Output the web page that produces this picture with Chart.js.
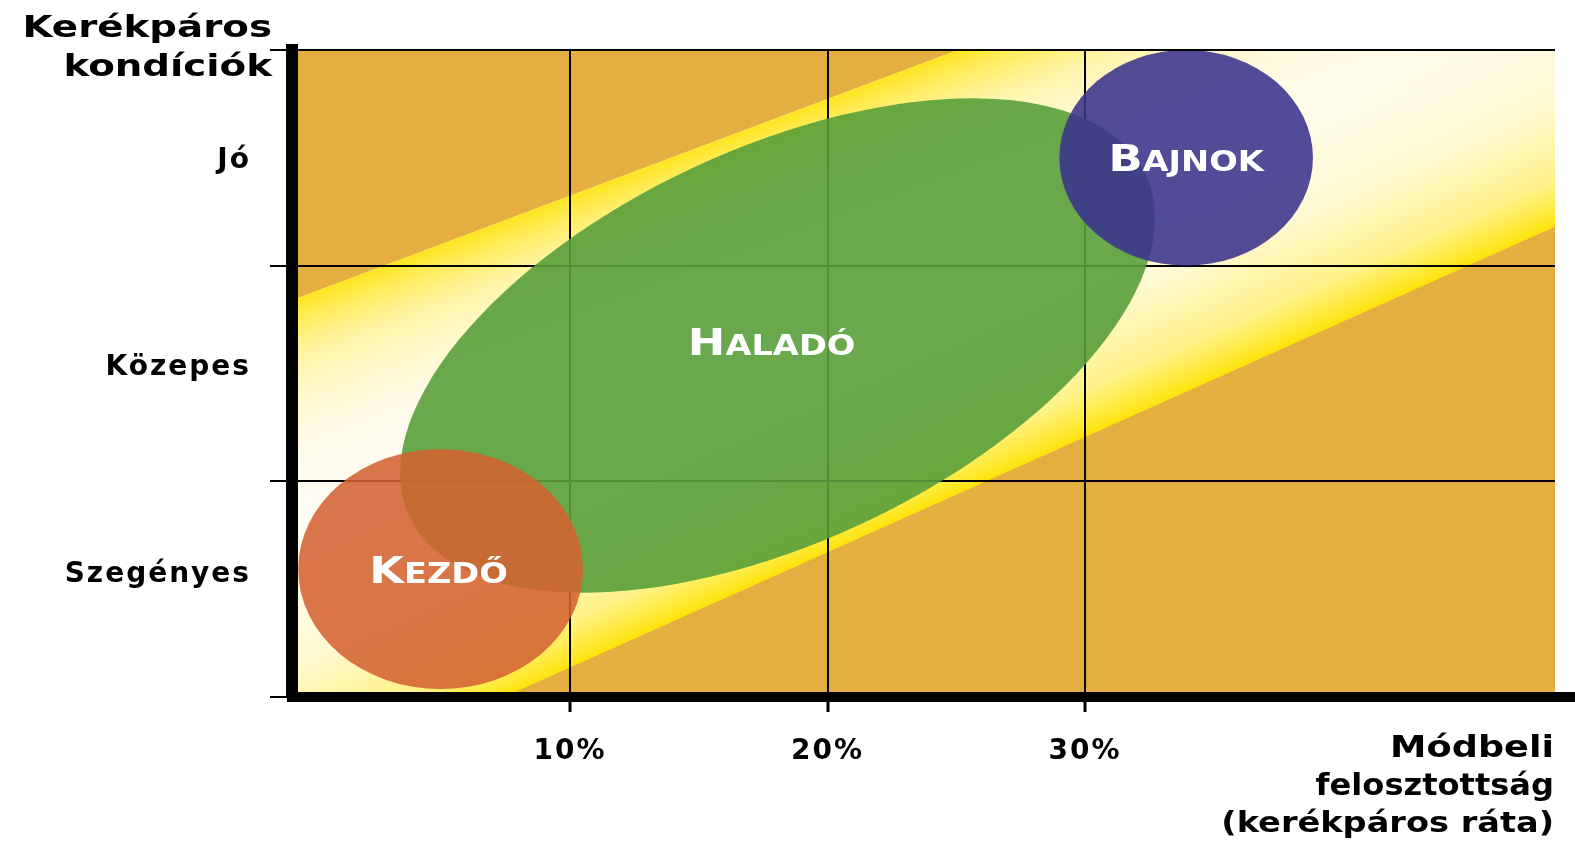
<!DOCTYPE html>
<html>
<head>
<meta charset="utf-8">
<script src="https://cdn.jsdelivr.net/npm/chart.js@4.4.1/dist/chart.umd.min.js"></script>
<style>
html, body { margin: 0; padding: 0; background: #ffffff; }
#wrap { width: 1575px; height: 842px; }
</style>
</head>
<body>
<div id="wrap"><canvas id="c" width="1575" height="842"></canvas></div>
<script>
// ---- data ----
const levelLabels = ['Szegényes', 'Közepes', 'Jó'];
const levelLabelPositions = [0.565, 1.525, 2.485];
const levelLines = [0, 1, 2, 3];
const shareTicks = [10, 20, 30];
const shareRange = [-0.8, 48.25];

const bandX = [-0.8, 48.25];
const bandLowerY = [-0.44, 2.18];
const bandUpperY = [1.84, 4.04];

const groupNames = ['Haladó', 'Kezdő', 'Bajnok'];
const groupAxisStartX = [3.76, -0.56, 29.0];
const groupAxisStartY = [0.837, 0.593, 2.5];
const groupAxisEndX = [32.36, 10.5, 38.85];
const groupAxisEndY = [2.422, 0.593, 2.5];
const groupMinorX = [21.28, 4.97, 33.92];
const groupMinorY = [0.801, 0.037, 2.0];

const yTitleLines = ['Kerékpáros', 'kondíciók'];
const xTitleLines = ['Módbeli', 'felosztottság', '(kerékpáros ráta)'];

// ---- styles ----
const FONT = '"DejaVu Sans", Verdana, sans-serif';
const ORANGE = 'rgb(228,175,64)';
const groupColors = ['rgba(89,158,59,0.9)', 'rgba(212,98,50,0.88)', 'rgba(58,50,140,0.88)'];

function edgeGradient(chart, ys, towardUp, len, stops) {
  const xs = chart.scales.x, yy = chart.scales.y;
  if (!xs || !yy || !chart.chartArea) return 'rgba(255,255,255,1)';
  const p1 = { x: xs.getPixelForValue(bandX[0]), y: yy.getPixelForValue(ys[0]) };
  const p2 = { x: xs.getPixelForValue(bandX[1]), y: yy.getPixelForValue(ys[1]) };
  let dx = p2.x - p1.x, dy = p2.y - p1.y;
  const l = Math.hypot(dx, dy); dx /= l; dy /= l;
  let nx = -dy, ny = dx;
  if (towardUp) { nx = -nx; ny = -ny; }
  const g = chart.ctx.createLinearGradient(p1.x, p1.y, p1.x + nx * len, p1.y + ny * len);
  stops.forEach(s => g.addColorStop(s[0], s[1]));
  return g;
}

const lowerStops = [[0, 'rgb(255,226,10)'], [0.04, 'rgb(255,233,50)'], [0.14, 'rgb(255,242,135)'],
                    [0.38, 'rgb(255,249,208)'], [0.75, 'rgb(255,254,246)'], [1, 'rgb(255,255,255)']];
const upperStops = [[0, 'rgba(255,228,30,1)'], [0.05, 'rgba(255,234,70,0.95)'], [0.18, 'rgba(255,242,145,0.78)'],
                    [0.42, 'rgba(255,246,200,0.45)'], [0.7, 'rgba(255,250,225,0.1)'], [1, 'rgba(255,255,255,0)']];

const pts = (xsArr, ysArr) => xsArr.map((x, i) => ({ x: x, y: ysArr[i] }));

const bgPlugin = {
  id: 'areaBg',
  beforeDraw(chart) {
    const { ctx, chartArea: a } = chart;
    ctx.save();
    ctx.fillStyle = ORANGE;
    ctx.fillRect(a.left, a.top, a.right - a.left, a.bottom - a.top);
    ctx.restore();
    ctx.letterSpacing = '2px';
  }
};

function drawSmallCaps(ctx, word, cx, cy, big, small) {
  const up = word.toUpperCase();
  const first = up[0], rest = up.slice(1);
  ctx.font = 'bold ' + big + 'px ' + FONT;
  const w1 = ctx.measureText(first).width;
  ctx.font = 'bold ' + small + 'px ' + FONT;
  const w2 = ctx.measureText(rest).width;
  ctx.save();
  ctx.translate(cx, cy);
  ctx.scale(1.18, 1);
  ctx.textAlign = 'left';
  ctx.textBaseline = 'alphabetic';
  const x0 = -(w1 + w2) / 2;
  const base = big * 0.729 / 2;
  ctx.fillStyle = '#ffffff';
  ctx.font = 'bold ' + big + 'px ' + FONT;
  ctx.fillText(first, x0, base);
  ctx.font = 'bold ' + small + 'px ' + FONT;
  ctx.fillText(rest, x0 + w1, base);
  ctx.restore();
}

function drawStretchedRight(ctx, text, rightX, baseY, size, sx) {
  ctx.save();
  ctx.translate(rightX, baseY);
  ctx.scale(sx, 1);
  ctx.font = 'bold ' + size + 'px ' + FONT;
  ctx.textAlign = 'right';
  ctx.textBaseline = 'alphabetic';
  ctx.fillStyle = '#000000';
  ctx.fillText(text, 0, 0);
  ctx.restore();
}

const groupPlugin = {
  id: 'groups',
  afterDraw(chart) {
    const { ctx, chartArea: a } = chart;
    const xs = chart.scales.x, ys = chart.scales.y;
    ctx.save();
    ctx.letterSpacing = '0px';
    ctx.fillStyle = '#000';
    ctx.fillRect(a.right, a.bottom - 5, chart.width - a.right, 10);

    ctx.save();
    ctx.beginPath();
    ctx.rect(a.left + 6, a.top + 1, a.right - a.left - 6, a.bottom - 5 - a.top - 1);
    ctx.clip();
    const geo = [];
    for (let i = 0; i < groupNames.length; i++) {
      const x1 = xs.getPixelForValue(groupAxisStartX[i]), y1 = ys.getPixelForValue(groupAxisStartY[i]);
      const x2 = xs.getPixelForValue(groupAxisEndX[i]), y2 = ys.getPixelForValue(groupAxisEndY[i]);
      const qx = xs.getPixelForValue(groupMinorX[i]), qy = ys.getPixelForValue(groupMinorY[i]);
      const cx = (x1 + x2) / 2, cy = (y1 + y2) / 2;
      const ra = Math.hypot(x2 - x1, y2 - y1) / 2;
      const rb = Math.hypot(qx - cx, qy - cy);
      const rot = Math.atan2(y2 - y1, x2 - x1);
      geo.push({ cx, cy });
      ctx.beginPath();
      ctx.ellipse(cx, cy, ra, rb, rot, 0, Math.PI * 2);
      ctx.fillStyle = groupColors[i];
      ctx.fill();
    }
    ctx.restore();
    drawSmallCaps(ctx, groupNames[0], geo[0].cx - 6, geo[0].cy - 4, 38, 28.5);
    drawSmallCaps(ctx, groupNames[1], geo[1].cx - 2, geo[1].cy, 38, 28.5);
    drawSmallCaps(ctx, groupNames[2], geo[2].cx, geo[2].cy - 1, 38, 28.5);
    drawStretchedRight(ctx, yTitleLines[0], 272, 37, 31, 1.25);
    drawStretchedRight(ctx, yTitleLines[1], 272, 76, 31, 1.25);
    drawStretchedRight(ctx, xTitleLines[0], 1554, 757, 30, 1.22);
    drawStretchedRight(ctx, xTitleLines[1], 1554, 795, 30, 1.07);
    drawStretchedRight(ctx, xTitleLines[2], 1554, 832, 28, 1.2);
    ctx.restore();
  }
};

const tickFont = { family: FONT, weight: 'bold', size: 28 };

new Chart(document.getElementById('c'), {
  type: 'line',
  data: {
    datasets: [
      { label: 'lower', data: pts(bandX, bandLowerY), yAxisID: 'y', borderWidth: 0, pointRadius: 0, fill: false, order: 2 },
      { label: 'band', data: pts(bandX, bandUpperY), yAxisID: 'y', borderWidth: 0, pointRadius: 0, fill: '-1', order: 1,
        backgroundColor: c => edgeGradient(c.chart, bandLowerY, true, 300, lowerStops) },
      { label: 'upper glow', data: pts(bandX, bandUpperY), yAxisID: 'y', borderWidth: 0, pointRadius: 0, fill: 0, order: -1,
        backgroundColor: c => edgeGradient(c.chart, bandUpperY, false, 320, upperStops) }
    ]
  },
  options: {
    responsive: false,
    animation: false,
    devicePixelRatio: 1,
    layout: { padding: { top: 50, right: 20, left: 0, bottom: 0 } },
    plugins: { legend: { display: false }, tooltip: { enabled: false }, title: { display: false } },
    scales: {
      x: {
        type: 'linear', position: 'bottom', min: shareRange[0], max: shareRange[1],
        afterBuildTicks: s => { s.ticks = shareTicks.map(v => ({ value: v })); },
        afterFit: s => { s.height = 145; },
        grid: { color: '#000', lineWidth: 2, tickLength: 15, tickWidth: 3, drawOnChartArea: true, z: 1 },
        border: { display: true, color: '#000', width: 10, z: 1 },
        ticks: { color: '#000', font: tickFont, padding: 23, maxRotation: 0, autoSkip: false, z: 1,
                 callback: v => v + '%' }
      },
      y: {
        type: 'linear', position: 'left', min: 0, max: 3, weight: 0,
        afterBuildTicks: s => { s.ticks = levelLines.map(v => ({ value: v })); },
        afterFit: s => { s.width = 22; },
        grid: { color: '#000', lineWidth: 2, tickLength: 22, tickWidth: 2, z: 1 },
        border: { display: true, color: '#000', width: 12, z: 1 },
        ticks: { display: false }
      },
      yl: {
        type: 'linear', position: 'left', min: 0, max: 3, weight: 1,
        afterBuildTicks: s => { s.ticks = levelLabelPositions.map(v => ({ value: v })); },
        afterFit: s => { s.width = 270; },
        grid: { display: false, drawTicks: false },
        border: { display: false },
        ticks: { color: '#000', font: tickFont, padding: 19, autoSkip: false, z: 1,
                 callback: (v, i) => levelLabels[i] }
      }
    }
  },
  plugins: [bgPlugin, groupPlugin]
});
</script>
</body>
</html>
